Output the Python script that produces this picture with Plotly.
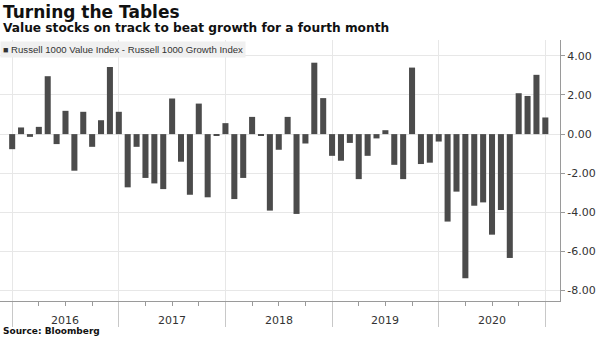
import plotly.graph_objects as go

title = "Turning the Tables"
subtitle = "Value stocks on track to beat growth for a fourth month"
series_name = "Russell 1000 Value Index - Russell 1000 Growth Index"
source = "Source: Bloomberg"

years = [2016, 2017, 2018, 2019, 2020]
# monthly spread values, Jan 2016 .. Jan 2021
values = [
    -0.77, 0.34, -0.14, 0.37, 2.96, -0.51, 1.19, -1.87, 1.14, -0.65, 0.71, 3.43,
    1.14, -2.72, -0.65, -2.24, -2.52, -2.81, 1.82, -1.41, -3.10, 1.56, -3.23, -0.05,
    0.56, -3.32, -2.24, 0.88, -0.08, -3.91, -0.80, 0.88, -4.08, -0.48, 3.65, 1.84,
    -1.11, -1.36, -0.45, -2.30, -1.11, -0.22, 0.20, -1.57, -2.30, 3.40, -1.53, -1.46,
    -0.38, -4.47, -2.94, -7.37, -3.66, -3.49, -5.14, -3.88, -6.33, 2.09, 1.95, 3.03,
    0.85,
]
y_ticks = [4, 2, 0, -2, -4, -6, -8]
y_ticklabels = [f"{v:.2f}" for v in y_ticks]

x = list(range(len(values)))
year_bounds = [12 * i for i in range(len(years) + 1)]
quarter_ticks = [q for q in range(0, len(values), 3) if q % 12 != 0]

BAR = "#4b4b4b"
GRID = "#e7e7e7"
TXT = "#333333"

PLOT_W, PLOT_TOP, PLOT_BOTTOM = 560.0, 40.0, 301.0


def px_x(p):
    return p / PLOT_W


def px_y(p):
    return (PLOT_BOTTOM - p) / (PLOT_BOTTOM - PLOT_TOP)


fig = go.Figure()
fig.add_trace(go.Bar(x=x, y=values, marker=dict(color=BAR, line=dict(width=0)),
                     name=series_name, showlegend=False))

fig.update_layout(
    width=600, height=338,
    margin=dict(l=0, r=40, t=40, b=37),
    paper_bgcolor="white", plot_bgcolor="white",
    bargap=0.32,
    font=dict(family="DejaVu Sans", size=11, color=TXT),
    xaxis=dict(
        range=[-1.37, 61.65],
        tickmode="array", tickvals=year_bounds, ticktext=[""] * len(year_bounds),
        ticks="outside", ticklen=25, tickcolor="#c8c8c8", tickwidth=1,
        showgrid=True, gridcolor=GRID, gridwidth=1,
        showline=True, linecolor="#9a9a9a", linewidth=1,
        zeroline=False,
        minor=dict(tickmode="array", tickvals=quarter_ticks, ticks="outside",
                   ticklen=4, tickcolor="#9a9a9a", showgrid=False),
    ),
    yaxis=dict(
        side="right", range=[-8.53, 4.81],
        tickmode="array", tickvals=y_ticks, ticktext=y_ticklabels,
        ticks="outside", ticklen=4, tickcolor="#9a9a9a",
        showgrid=True, gridcolor=GRID, gridwidth=1,
        showline=True, linecolor="#9a9a9a", linewidth=1,
        zeroline=False,
        tickfont=dict(size=11, color=TXT),
    ),
)

# year labels centred in each year period
for i, yr in enumerate(years):
    fig.add_annotation(x=year_bounds[i] + 6, xref="x", y=px_y(320), yref="paper",
                       text=str(yr), showarrow=False, yanchor="middle",
                       font=dict(size=11, color=TXT))

fig.add_annotation(x=px_x(1), y=px_y(12), xref="paper", yref="paper", text=f"<b>{title}</b>",
                   showarrow=False, xanchor="left", yanchor="middle",
                   font=dict(family="DejaVu Sans", size=17, color="#111111"))
fig.add_annotation(x=px_x(1), y=px_y(28), xref="paper", yref="paper", text=f"<b>{subtitle}</b>",
                   showarrow=False, xanchor="left", yanchor="middle",
                   font=dict(family="DejaVu Sans", size=12.2, color="#111111"))
fig.add_annotation(x=px_x(0), y=px_y(49.5), xref="paper", yref="paper",
                   text=f"<span style='font-size:9px'>■</span> {series_name}",
                   showarrow=False, xanchor="left", yanchor="middle",
                   bgcolor="#f0f0f0", borderpad=2,
                   font=dict(family="Liberation Sans", size=9.6, color=TXT))
fig.add_annotation(x=px_x(1), y=px_y(331), xref="paper", yref="paper", text=f"<b>{source}</b>",
                   showarrow=False, xanchor="left", yanchor="middle",
                   font=dict(family="DejaVu Sans", size=9, color="#111111"))

fig.write_html("out.html")
